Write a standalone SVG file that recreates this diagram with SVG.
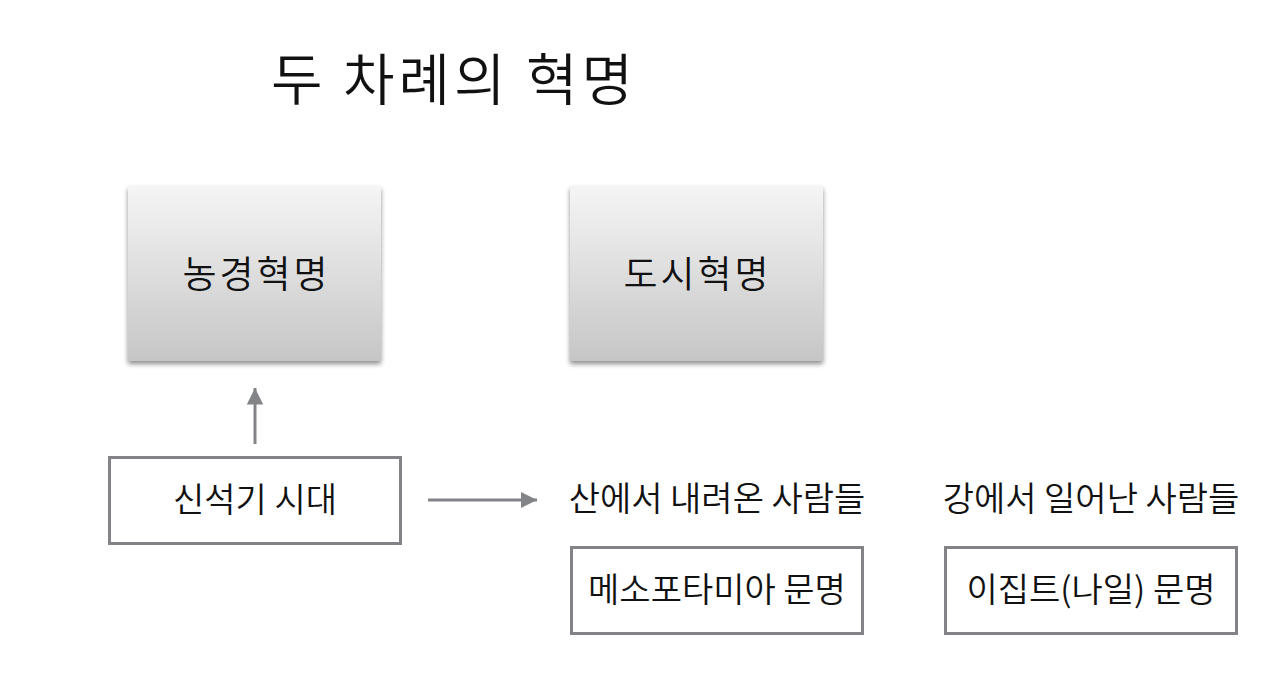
<svg xmlns="http://www.w3.org/2000/svg" width="1280" height="689" viewBox="0 0 1280 689">
<defs>
<linearGradient id="g" x1="0" y1="0" x2="0" y2="1">
<stop offset="0" stop-color="#f5f5f5"/>
<stop offset="1" stop-color="#c6c6c6"/>
</linearGradient>
<filter id="sh" x="-10%" y="-10%" width="120%" height="125%">
<feGaussianBlur in="SourceAlpha" stdDeviation="2.5"/>
<feOffset dy="3" result="b"/>
<feComponentTransfer><feFuncA type="linear" slope="0.45"/></feComponentTransfer>
<feMerge><feMergeNode/><feMergeNode in="SourceGraphic"/></feMerge>
</filter>
<marker id="ah" viewBox="0 0 10 10" refX="10" refY="5" markerWidth="5.5" markerHeight="5.5" markerUnits="strokeWidth" orient="auto">
<path d="M0,0 L10,5 L0,10 z" fill="#838487"/>
</marker>
</defs>
<style>
text{font-family:"Noto Sans CJK KR","Noto Sans",sans-serif;fill:#111;font-weight:350;}
.t{font-size:34px;text-anchor:middle;}
.h{font-size:37px;letter-spacing:3px;}
.b{fill:#fff;stroke:#828387;stroke-width:3;}
.c{stroke:#838487;stroke-width:3;fill:none;}
</style>
<rect width="1280" height="689" fill="#fff"/>
<text x="271" y="100" style="font-size:56px;letter-spacing:4px">두 차례의 혁명</text>
<g id="n1">
<rect x="128" y="186" width="253" height="175" fill="url(#g)" filter="url(#sh)"/>
<text class="t h" x="256.5" y="288">농경혁명</text>
</g>
<g id="n2">
<rect x="570" y="186" width="253" height="175" fill="url(#g)" filter="url(#sh)"/>
<text class="t h" x="697.5" y="288">도시혁명</text>
</g>
<g id="n3">
<rect class="b" x="109.5" y="457.5" width="291" height="86"/>
<text class="t" x="255" y="512">신석기 시대</text>
</g>
<g id="n4">
<text class="t" x="717" y="511">산에서 내려온 사람들</text>
</g>
<g id="n5">
<rect class="b" x="571.5" y="547.5" width="291" height="86"/>
<text class="t" x="717" y="602">메소포타미아 문명</text>
</g>
<g id="n6">
<text class="t" x="1091" y="511">강에서 일어난 사람들</text>
</g>
<g id="n7">
<rect class="b" x="945.5" y="547.5" width="291" height="86"/>
<text class="t" x="1091" y="602">이집트(나일) 문명</text>
</g>
<g id="connectors">
<line class="c" x1="255" y1="444" x2="255" y2="388" marker-end="url(#ah)"/>
<line class="c" x1="428" y1="500" x2="537" y2="500" marker-end="url(#ah)"/>
</g>
</svg>
